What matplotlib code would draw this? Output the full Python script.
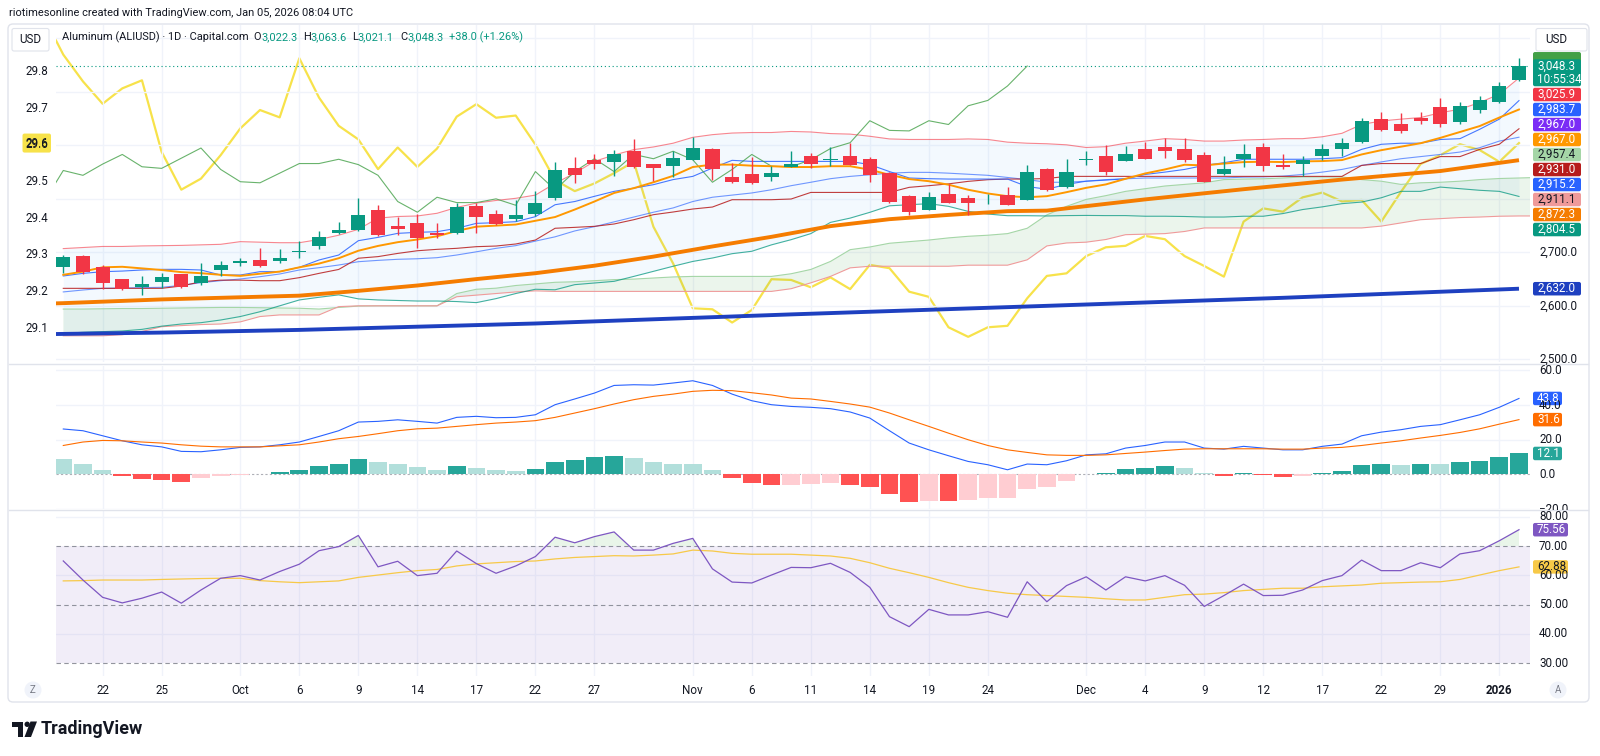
import numpy as np
import matplotlib
matplotlib.use("Agg")
import matplotlib.pyplot as plt
from matplotlib.patches import FancyBboxPatch, Rectangle, Ellipse, Polygon
from matplotlib.lines import Line2D
from matplotlib.transforms import Bbox, TransformedBbox

plt.rcParams["font.family"] = ["Roboto", "DejaVu Sans"]

# ---------------- data ----------------
tick_pos = [2, 5, 9, 12, 15, 18, 21, 24, 27, 32, 35, 38, 41, 44, 47, 52, 55, 58, 61, 64, 67, 70, 73]
tick_txt = ["22", "25", "Oct", "6", "9", "14", "17", "22", "27", "Nov", "6", "11", "14",
            "19", "24", "Dec", "4", "9", "12", "17", "22", "29", "2026"]

opens = [2673, 2693, 2673, 2650, 2635, 2645, 2659, 2643, 2667, 2681,
         2686, 2684, 2701, 2711, 2736, 2742, 2780, 2750, 2755, 2737,
         2736, 2787, 2772, 2763, 2772, 2802, 2858, 2872, 2869, 2889,
         2866, 2862, 2872, 2893, 2841, 2846, 2841, 2860, 2881, 2873,
         2881, 2874, 2848, 2806, 2779, 2809, 2802, 2799, 2807, 2798,
         2855, 2822, 2873, 2880, 2871, 2894, 2896, 2893, 2882, 2847,
         2875, 2896, 2864, 2866, 2880, 2894, 2907, 2949, 2939, 2951,
         2971, 2943, 2966, 2981, 3022.3]
highs = [2695, 2695, 2676, 2651, 2655, 2662, 2660, 2681, 2683, 2690,
         2708, 2706, 2722, 2740, 2757, 2802, 2789, 2767, 2772, 2754,
         2793, 2793, 2780, 2797, 2815, 2869, 2878, 2883, 2892, 2912,
         2866, 2889, 2916, 2895, 2867, 2878, 2861, 2890, 2886, 2896,
         2904, 2878, 2851, 2807, 2812, 2827, 2808, 2809, 2822, 2864,
         2858, 2875, 2890, 2900, 2898, 2906, 2914, 2913, 2888, 2881,
         2902, 2904, 2883, 2881, 2902, 2913, 2952, 2963, 2961, 2963,
         2989, 2981, 2993, 3018, 3063.6]
lows = [2662, 2660, 2631, 2630, 2620, 2633, 2634, 2639, 2655, 2675,
        2672, 2681, 2689, 2706, 2734, 2739, 2731, 2732, 2708, 2726,
        2734, 2736, 2751, 2759, 2768, 2798, 2830, 2856, 2842, 2858,
        2833, 2841, 2872, 2836, 2830, 2828, 2833, 2859, 2858, 2862,
        2864, 2831, 2793, 2769, 2779, 2793, 2769, 2791, 2788, 2798,
        2815, 2821, 2863, 2844, 2871, 2874, 2877, 2868, 2831, 2845,
        2860, 2852, 2856, 2843, 2873, 2880, 2905, 2927, 2923, 2939,
        2934, 2939, 2961, 2980, 3021.1]
closes = [2692, 2664, 2642, 2632, 2641, 2653, 2636, 2656, 2676, 2683,
          2675, 2690, 2703, 2729, 2741, 2769, 2732, 2744, 2726, 2733,
          2784, 2767, 2753, 2769, 2793, 2853, 2844, 2865, 2883, 2860,
          2857, 2876, 2895, 2855, 2832, 2830, 2848, 2866, 2866, 2874,
          2864, 2844, 2795, 2775, 2803, 2793, 2793, 2800, 2788, 2851,
          2817, 2851, 2875, 2851, 2883, 2875, 2889, 2873, 2831, 2855,
          2883, 2861, 2860, 2873, 2894, 2905, 2946, 2928, 2927, 2946,
          2939, 2974, 2984, 3011, 3048.3]

bb_upper = [2707, 2709, 2711, 2711, 2712, 2712.5, 2713, 2714, 2715, 2720,
            2719, 2718, 2718, 2724, 2732, 2743, 2764, 2767, 2768, 2773,
            2784, 2792, 2797, 2801, 2807, 2829, 2848, 2870, 2882, 2892,
            2897, 2904, 2915, 2920, 2923, 2924, 2924, 2926, 2925, 2922,
            2921, 2917, 2912, 2911, 2911, 2911, 2912, 2911, 2906, 2904,
            2903, 2901, 2896, 2897.5, 2904, 2908, 2912.5, 2911, 2908, 2908,
            2910, 2911, 2912.5, 2912.5, 2916, 2922.5, 2939, 2945.6, 2949, 2952,
            2961, 2967.5, 2980, 2995.6, 3025.9]
bb_basis = [2626, 2629.6, 2632.7, 2633.3, 2634, 2634.6, 2638.3, 2643.3, 2647, 2650.2,
            2654.5, 2659.5, 2667, 2671.3, 2676.3, 2682.5, 2685, 2687, 2688, 2690,
            2695, 2701, 2707.5, 2712.5, 2721, 2729, 2740, 2748, 2757, 2766,
            2775, 2783, 2795, 2803, 2807, 2811, 2817, 2824.6, 2831, 2837.7,
            2842, 2845, 2848, 2849.5, 2849.5, 2848, 2846, 2844, 2840, 2836,
            2831, 2831, 2833, 2836, 2837.5, 2839, 2839, 2839, 2839, 2839,
            2840.6, 2841, 2842.5, 2845.6, 2850, 2855, 2862.5, 2869, 2875, 2879,
            2883, 2887.5, 2895.6, 2908, 2915.2]
bb_lower = [2548.6, 2550.5, 2551.8, 2553, 2556, 2562, 2566, 2568.5, 2573.5, 2580,
            2589, 2600, 2611, 2616, 2620.5, 2613, 2611, 2610, 2609, 2609,
            2608, 2606, 2613.5, 2623, 2631, 2630, 2639.6, 2642.7, 2645.8, 2655,
            2664.5, 2674, 2683, 2689.4, 2697.5, 2702, 2714, 2723.7, 2735, 2756,
            2764, 2774.8, 2787, 2789, 2791, 2786, 2776.6, 2771.6, 2768.5, 2768.5,
            2768, 2768.7, 2769, 2768.7, 2768.7, 2767.5, 2767.5, 2767, 2766, 2766,
            2767.5, 2767.5, 2772.5, 2780, 2785, 2791, 2794, 2802, 2814, 2814,
            2822, 2819, 2816, 2814, 2804.5]

tenkan = [2655.8, 2660.7, 2663.8, 2665, 2667, 2668.2, 2668.2, 2667, 2657.6, 2657.6,
          2663.9, 2663.9, 2672, 2685.7, 2695, 2721.8, 2728, 2735.5, 2737.4, 2738.6,
          2744.9, 2754.2, 2755.4, 2757.3, 2766.7, 2789, 2795, 2804.7, 2814, 2820,
          2826.5, 2836, 2842, 2857.6, 2872, 2870, 2870, 2870, 2870, 2870,
          2870, 2864, 2851, 2839, 2837.7, 2837, 2837, 2837, 2837, 2823,
          2818, 2827, 2833, 2835, 2837.5, 2845.6, 2850, 2855, 2862.5, 2867.5,
          2874, 2874, 2874, 2874, 2875, 2877, 2892.5, 2902, 2904, 2904,
          2911, 2912.5, 2930, 2949, 2983.7]
kijun = [2632.7, 2632.7, 2632.7, 2632.7, 2632.7, 2632.7, 2637, 2645, 2648, 2648,
         2647, 2647, 2652.7, 2660.7, 2668, 2689, 2692, 2698, 2703, 2705.6,
         2707.5, 2710.6, 2711.8, 2715.6, 2723, 2745, 2746.7, 2748.6, 2753, 2761,
         2770.4, 2775.4, 2781, 2784.7, 2798.4, 2798.4, 2798.4, 2799.7, 2812, 2812,
         2812, 2812, 2812, 2821.5, 2824.6, 2828, 2832.7, 2835.8, 2837, 2837,
         2838, 2842, 2842, 2842, 2842, 2842, 2842, 2842, 2842, 2842,
         2842, 2842, 2842, 2842, 2842, 2842, 2862.5, 2866, 2866, 2866,
         2879, 2879, 2892.5, 2902, 2931]
span_a = [2594, 2594, 2594.5, 2595, 2595, 2595.5, 2596, 2596.5, 2597, 2597,
          2596.5, 2596, 2595.5, 2594, 2597, 2599.5, 2600, 2600, 2600, 2600,
          2623, 2631, 2633, 2638, 2641, 2644, 2645, 2647, 2649, 2650,
          2652, 2654, 2655, 2655, 2655, 2655, 2655, 2660, 2668, 2683,
          2705, 2710, 2717, 2720, 2723, 2727, 2730, 2732, 2735, 2745,
          2770, 2786, 2799, 2806, 2814, 2819, 2824, 2827, 2830, 2836,
          2837, 2837.5, 2839, 2841, 2841, 2841, 2836, 2833, 2827, 2830,
          2831, 2833, 2836, 2838, 2839, 2840]
span_b = [2544, 2544, 2544, 2546, 2552, 2561, 2563, 2565, 2566, 2570,
          2580, 2583, 2583, 2583, 2598.5, 2600, 2600, 2600, 2600, 2600,
          2617, 2620, 2623, 2626, 2628, 2627, 2627, 2627, 2627, 2627,
          2627, 2627, 2627, 2627, 2627, 2627, 2627, 2632, 2643, 2655,
          2671, 2674, 2674, 2674, 2674, 2674, 2676, 2676, 2676, 2686,
          2712, 2717.5, 2719, 2724, 2733, 2734, 2735, 2739, 2745.6, 2745.6,
          2745.6, 2745.6, 2745.6, 2745.6, 2745.6, 2745.6, 2745.6, 2749, 2755, 2761,
          2763, 2765, 2766, 2767.5, 2768, 2768]
ema_fast = [2658, 2664, 2672, 2673, 2670, 2667, 2663, 2661, 2658, 2656,
            2660, 2664, 2672, 2679, 2689, 2703, 2712, 2719, 2724, 2730,
            2740, 2748, 2750, 2752, 2759, 2766, 2780, 2795, 2811, 2820,
            2831, 2843, 2859.5, 2864, 2864, 2862, 2861, 2859.5, 2859.5, 2861,
            2861, 2854.5, 2845, 2837, 2833, 2826.5, 2817, 2810, 2805, 2803,
            2805, 2812.5, 2820.6, 2827, 2837.5, 2847.5, 2855, 2863.75, 2862.5, 2866,
            2868.75, 2869.4, 2868.75, 2870, 2870.6, 2872.5, 2883, 2891, 2897.5, 2904,
            2914, 2925, 2936, 2952, 2967]
ma_mid_x = [-1, 0, 5, 9, 12, 15, 18, 21, 24, 27, 30, 33, 36, 39, 42, 45, 48, 50, 55, 60, 65, 70, 74]
ma_mid = [2604, 2605, 2612, 2616, 2619, 2628, 2638, 2650, 2661, 2675, 2692, 2711,
          2729, 2749, 2762, 2770, 2777, 2778, 2799, 2818, 2836, 2852, 2872.3]
ma_long_x = [-1, 5, 12, 18, 24, 37, 50, 62, 74]
ma_long = [2547, 2550, 2555, 2561, 2567, 2584, 2600, 2615, 2632]

# overlay symbol on the left scale (first value sits just left of the first candle)
cmp_line = [29.95,
            29.846, 29.773, 29.712, 29.754, 29.776, 29.581, 29.478, 29.508, 29.572, 29.645,
            29.695, 29.675, 29.836, 29.729, 29.652, 29.615, 29.534, 29.593, 29.540, 29.590,
            29.677, 29.711, 29.674, 29.680, 29.601, 29.504, 29.474, 29.495, 29.523, 29.554,
            29.377, 29.277, 29.155, 29.152, 29.116, 29.150, 29.234, 29.232, 29.212, 29.239,
            29.207, 29.273, 29.264, 29.200, 29.186, 29.103, 29.077, 29.103, 29.107, 29.182,
            29.243, 29.250, 29.297, 29.321, 29.325, 29.352, 29.343, 29.297, 29.270, 29.241,
            29.391, 29.427, 29.418, 29.457, 29.470, 29.446, 29.450, 29.391, 29.472, 29.548,
            29.572, 29.602, 29.586, 29.554, 29.605]

macd = [26.2, 25.2, 22.3, 19.4, 17.1, 15.9, 13.3, 13.1, 14.2, 15.6,
        15.9, 17.1, 18.7, 21.9, 25.2, 30.2, 30.6, 31.5, 30.6, 29.6,
        32.9, 33.5, 32.7, 32.9, 34.4, 40.2, 43.5, 46.9, 51.3, 51.7,
        51.5, 52.7, 54.0, 51.3, 46.3, 42.5, 40.2, 39.2, 38.7, 37.9,
        36.0, 32.5, 25.2, 18.1, 14.2, 10.8, 7.5, 5.6, 2.7, 6.0,
        5.6, 7.9, 11.3, 11.9, 15.2, 16.7, 18.7, 18.7, 15.2, 14.6,
        16.2, 15.2, 14.2, 14.2, 16.2, 17.5, 22.3, 24.4, 25.8, 27.7,
        28.7, 31.5, 34.4, 38.7, 43.8]
macd_signal = [16.7, 18.7, 19.6, 19.4, 18.7, 18.1, 17.1, 16.3, 15.9, 15.9,
               15.9, 16.5, 17.1, 18.7, 20.6, 21.9, 23.5, 25.2, 26.3, 26.7,
               27.7, 28.7, 29.6, 30.2, 31.0, 32.9, 35.4, 37.9, 40.6, 43.1,
               45.0, 46.3, 47.9, 48.5, 48.3, 47.1, 45.8, 44.0, 43.5, 42.1,
               40.6, 38.8, 35.4, 31.5, 27.7, 23.8, 20.0, 16.7, 14.2, 12.7,
               11.3, 11.0, 11.0, 11.3, 12.1, 12.9, 13.8, 14.6, 14.8, 14.8,
               14.8, 14.8, 14.6, 14.6, 15.2, 15.6, 16.7, 18.1, 19.4, 21.0,
               22.5, 24.2, 26.3, 29.0, 31.6]
macd_hist = [8.7, 6.3, 2.7, -1.0, -2.5, -3.1, -4.4, -2.1, -1.0, -0.4,
             0.2, 1.2, 2.3, 4.6, 6.3, 8.7, 7.3, 6.3, 4.2, 2.7,
             4.8, 4.0, 2.7, 2.1, 3.1, 7.3, 8.1, 9.8, 10.9, 9.2,
             7.3, 6.3, 6.2, 2.7, -1.9, -5.0, -6.2, -5.8, -5.4, -4.8,
             -5.8, -7.3, -11.5, -15.6, -15.3, -15.5, -14.8, -13.8, -13.5, -8.1,
             -7.1, -3.8, 0.2, 0.8, 2.9, 3.5, 4.6, 3.5, 0.6, -0.8,
             0.6, -0.4, -1.5, -0.8, 0.6, 2.1, 5.2, 5.8, 5.6, 6.2,
             5.8, 7.3, 7.9, 9.8, 12.1]

rsi = [64.9, 58.4, 52.5, 50.6, 52.2, 54.3, 50.5, 55.0, 59.0, 59.9,
       58.4, 61.3, 63.8, 68.4, 69.8, 73.6, 62.9, 64.8, 59.9, 60.7,
       68.3, 64.0, 60.7, 63.2, 66.4, 73.0, 71.1, 73.2, 74.8, 68.6,
       68.6, 70.9, 72.6, 62.2, 57.7, 57.4, 60.1, 62.7, 62.6, 64.1,
       61.0, 55.9, 45.9, 42.5, 48.4, 46.5, 46.5, 47.6, 45.7, 57.8,
       51.0, 56.5, 59.5, 55.0, 59.5, 58.1, 59.9, 56.6, 49.4, 53.1,
       57.0, 53.1, 53.2, 55.0, 58.2, 59.9, 65.2, 61.6, 61.6, 64.3,
       62.6, 67.3, 68.4, 71.8, 75.56]
rsi_ma = [58.1, 58.2, 58.4, 58.4, 58.4, 58.6, 58.75, 58.9, 59.0, 59.0,
          58.2, 57.8, 57.5, 57.8, 58.1, 59.3, 60.1, 60.9, 61.6, 62.0,
          63.2, 63.9, 64.3, 64.7, 64.9, 65.6, 66.1, 66.4, 66.7, 66.6,
          66.9, 67.3, 68.6, 68.3, 67.5, 67.2, 67.2, 67.2, 66.9, 66.6,
          65.8, 64.3, 62.4, 60.9, 59.3, 57.5, 55.9, 54.8, 53.9, 53.4,
          53.1, 52.8, 52.5, 52.0, 51.6, 51.6, 52.5, 53.4, 53.6, 54.1,
          54.8, 55.2, 55.6, 55.6, 56.1, 56.4, 56.7, 57.3, 57.5, 57.7,
          57.8, 58.6, 60.1, 61.6, 62.88]

# values shown in price-scale badges that have no drawn line of their own
purple_badge = 2967.0
span_a_now = 2957.4
span_b_now = 2911.1

price_ticks = [2500, 2600, 2700]
left_ticks = [29.1, 29.2, 29.3, 29.4, 29.5, 29.6, 29.7, 29.8]
macd_ticks = [60, 40, 20, 0, -20]
rsi_ticks = [80, 70, 60, 50, 40, 30]

# ---------------- figure ----------------
W, H = 1600, 756
fig = plt.figure(figsize=(W / 100, H / 100), dpi=100)
fig.patch.set_facecolor("white")
DARK = "#131722"
GRID = "#F0F3FA"
UP, DOWN = "#089981", "#F23645"
XL = (-0.37, 74.56)


def fx(px):
    return px / W


def fy(py):
    return 1 - py / H


def pane(top, bottom, name):
    a = fig.add_axes([fx(56), fy(bottom), fx(1530) - fx(56), fy(top) - fy(bottom)], label=name)
    a.set_xlim(*XL)
    a.axis("off")
    return a


ax_cmp = pane(25, 362, "cmp")
ax = pane(25, 362, "price")
ax_macd = pane(366, 509, "macd")
ax_rsi = pane(511, 676, "rsi")
ax_cmp.set_zorder(0)
ax.set_zorder(1)

ax.set_ylim(2495, 3125)
ax_cmp.set_ylim(29.0084, 29.9267)
ax_macd.set_ylim(-19.9, 62.5)
ax_rsi.set_ylim(25.67, 81.94)

x = np.arange(len(closes))
xc = np.arange(len(span_a))
o, hi, lo, c = (np.array(v, float) for v in (opens, highs, lows, closes))

for a in (ax, ax_macd, ax_rsi):
    for t in tick_pos:
        a.axvline(t, color=GRID, lw=1, zorder=0)
for p in range(2500, 3101, 100):
    ax.axhline(p, color=GRID, lw=1, zorder=0)
for v in (60, 40, 20, -20):
    ax_macd.axhline(v, color=GRID, lw=1, zorder=0)
for v in (80, 60, 40):
    ax_rsi.axhline(v, color=GRID, lw=1, zorder=0)

# ---- main pane ----
ax_cmp.plot(np.arange(-1, len(cmp_line) - 1), cmp_line, color="#F7E24A", lw=1.6)

sa, sb = np.array(span_a), np.array(span_b)
ax.fill_between(x, bb_upper, bb_lower, color="#2196F3", alpha=0.05, lw=0, zorder=1)
ax.fill_between(xc, sa, sb, where=sa >= sb, interpolate=True, color="#43A047", alpha=0.1, lw=0, zorder=1)
ax.fill_between(xc, sa, sb, where=sa < sb, interpolate=True, color="#F44336", alpha=0.1, lw=0, zorder=1)
ax.plot(xc, sa, color="#A5D6A7", lw=0.8, zorder=2)
ax.plot(xc, sb, color="#EF9A9A", lw=0.8, zorder=2)
ax.plot(x, bb_lower, color="#089981", lw=0.8, alpha=0.75, zorder=2)
ax.plot(x, bb_upper, color="#F23645", lw=0.8, alpha=0.6, zorder=2)
ax.plot(x, bb_basis, color="#2962FF", lw=0.8, alpha=0.65, zorder=2)
ax.plot(x, kijun, color="#B71C1C", lw=0.8, alpha=0.85, zorder=2)
ax.plot(x, tenkan, color="#2962FF", lw=0.8, alpha=0.85, zorder=2)
ax.plot(np.arange(-1, len(closes) - 25), c[24:], color="#43A047", lw=0.8, alpha=0.8, zorder=2)
ax.plot(ma_long_x, ma_long, color="#1E40C0", lw=2.8, zorder=3, solid_capstyle="butt")
ax.plot(ma_mid_x, ma_mid, color="#F57C00", lw=2.8, zorder=3, solid_capstyle="butt")
ax.plot(x, ema_fast, color="#FF9800", lw=1.4, zorder=3)
ax.axhline(closes[-1], color=UP, lw=0.8, ls=(0, (1, 2.5)), zorder=3)

col = np.where(c >= o, UP, DOWN)
ax.vlines(x, lo, hi, colors=col, lw=1, zorder=5)
ax.bar(x, np.maximum(np.abs(c - o), 1.6), bottom=np.minimum(o, c), width=0.72,
       color=col, lw=0, zorder=6)

# ---- MACD pane ----
hst = np.array(macd_hist)
prev = np.concatenate([[hst[0]], hst[:-1]])
hcol = np.where(hst >= 0, np.where(hst > prev, "#26A69A", "#B2DFDB"),
                np.where(hst < prev, "#FF5252", "#FFCDD2"))
ax_macd.axhline(0, color="#787B86", lw=0.8, ls=(0, (2, 2)), alpha=0.6, zorder=1)
ax_macd.bar(x, hst, width=0.9, color=hcol, lw=0, zorder=2)
ax_macd.plot(x, macd, color="#2962FF", lw=0.8, zorder=3)
ax_macd.plot(x, macd_signal, color="#FF6D00", lw=0.8, zorder=3)

# ---- RSI pane ----
r = np.array(rsi)
ax_rsi.fill_between(XL, 30, 70, color="#7E57C2", alpha=0.1, lw=0, zorder=1)
for v in (70, 50, 30):
    ax_rsi.axhline(v, color="#787B86", lw=0.8, ls=(0, (4, 3)), alpha=0.8, zorder=1)
ax_rsi.fill_between(x, 70, r, where=r > 70, interpolate=True, color="#4CAF50", alpha=0.12, lw=0)
ax_rsi.plot(x, rsi_ma, color="#F7C948", lw=0.9, zorder=3)
ax_rsi.plot(x, rsi, color="#7E57C2", lw=0.9, zorder=4)


# ---------------- chrome / labels ----------------
def ypix(a, v):
    return H - a.transData.transform((0, v))[1]


def xpix(a, v):
    return a.transData.transform((v, 0))[0]


def badge(x0, top, w, h, fc, ec="none", z=20):
    fig.add_artist(FancyBboxPatch((fx(x0), fy(top + h)), w / W, h / H,
                                  boxstyle="round,pad=0,rounding_size=%f" % (2.0 / W),
                                  mutation_aspect=W / H, fc=fc, ec=ec, lw=0.8,
                                  transform=fig.transFigure, zorder=z))


def txt(px, py, s, **kw):
    kw.setdefault("fontsize", 8.4)
    kw.setdefault("color", DARK)
    kw.setdefault("va", "center")
    kw.setdefault("zorder", 25)
    return fig.text(fx(px), fy(py), s, **kw)


# frame and pane separators
fig.add_artist(FancyBboxPatch((fx(8), fy(702)), 1581 / W, 678 / H,
                              boxstyle="round,pad=0,rounding_size=%f" % (5.0 / W),
                              mutation_aspect=W / H, fill=False, ec="#E0E3EB", lw=1,
                              transform=fig.transFigure, zorder=2))
for yy in (364, 510):
    fig.add_artist(Line2D([fx(9), fx(1588)], [fy(yy), fy(yy)], color="#E0E3EB", lw=1, zorder=2))

txt(9, 13, "riotimesonline created with TradingView.com, Jan 05, 2026 08:04 UTC", fontsize=7.9)

# legend line
rend = fig.canvas.get_renderer()
txt(62, 37, "Aluminum (ALIUSD) \u00b7 1D \u00b7 Capital.com", fontsize=7.9)
for x0, letter, val in [(253.6, "O", "3,022.3"), (303, "H", "3,063.6"),
                        (352, "L", "3,021.1"), (400.5, "C", "3,048.3")]:
    t = txt(x0, 37, letter, fontsize=7.9)
    wlet = t.get_window_extent(renderer=rend).width
    txt(x0 + wlet, 37, val, fontsize=7.9, color=UP)
txt(449, 37, "+38.0 (+1.26%)", fontsize=7.9, color=UP)

# USD boxes
badge(12, 28.5, 37, 22.5, "white", ec="#E0E3EB")
txt(30.5, 39.8, "USD", ha="center")
badge(1536, 28.5, 51, 22.5, "white", ec="#E0E3EB")
txt(1545, 39.8, "USD")

# left scale
for v in left_ticks:
    txt(48, ypix(ax_cmp, v), "%.1f" % v, ha="right")
yc = ypix(ax_cmp, cmp_line[-1])
badge(22.5, yc - 9.5, 28.5, 19, "#F7E24A")
txt(48, yc, "%.1f" % cmp_line[-1], ha="right")

# right price scale
for p in price_ticks:
    txt(1539, ypix(ax, p), "{:,.1f}".format(p))

BH, GAP = 13.5, 1.5
ylast = ypix(ax, closes[-1])
badge(1533, ylast - 14, 48, 14, "#43A047")
top0 = ylast - BH / 2
badge(1533, top0, 48, 27, UP)
txt(1537, ylast, "{:,.1f}".format(closes[-1]), color="white")
txt(1537, ylast + 13, "10:55:34", color="white")

price_badges = [
    (bb_upper[-1], DOWN, "white"),
    (tenkan[-1], "#2962FF", "white"),
    (purple_badge, "#7B2CF6", "white"),
    (ema_fast[-1], "#FF9800", "white"),
    (span_a_now, "#A5D6A7", DARK),
    (kijun[-1], "#B71C1C", "white"),
    (bb_basis[-1], "#2962FF", "white"),
    (span_b_now, "#EF9A9A", DARK),
    (ma_mid[-1], "#F57C00", "white"),
    (bb_lower[-1], "#089981", "white"),
    (ma_long[-1], "#1E40C0", "white"),
]


def stack(a, items, cursor, w, fmt):
    for val, fc, tc in items:
        top = max(ypix(a, val) - BH / 2, cursor)
        badge(1533, top, w, BH, fc)
        txt(1537, top + BH / 2, fmt(val), color=tc)
        cursor = top + BH + GAP


stack(ax, price_badges, top0 + 27 + GAP, 48, lambda v: "{:,.1f}".format(v))

# MACD scale: labels are clipped to their pane, as on the chart
macd_clip = TransformedBbox(Bbox([[0, fy(510)], [1, fy(364)]]), fig.transFigure)
for v in macd_ticks:
    t = txt(1539, ypix(ax_macd, v), ("%.1f" % v).replace("-", "\u2212"))
    t.set_clip_box(macd_clip)
    t.set_clip_on(True)
stack(ax_macd, [(macd[-1], "#2962FF", "white"), (macd_signal[-1], "#FF6D00", "white"),
                (macd_hist[-1], "#26A69A", "white")], 0, 29, lambda v: "%.1f" % v)

for v in rsi_ticks:
    txt(1539, ypix(ax_rsi, v), "%.2f" % v)
stack(ax_rsi, [(rsi[-1], "#7E57C2", "white"), (rsi_ma[-1], "#F7C948", DARK)],
      0, 35, lambda v: "%.2f" % v)

# time axis
for t, s in zip(tick_pos, tick_txt):
    txt(xpix(ax, t), 690, s, ha="center", fontweight="bold" if s == "2026" else "normal")
for cx, s in ((33, "Z"), (1558, "A")):
    fig.add_artist(Ellipse((fx(cx), fy(690)), 17 / W, 17 / H, fc="#F0F3FA", ec="none",
                           transform=fig.transFigure, zorder=20))
    txt(cx, 690, s, ha="center", fontsize=7, color="#787B86")

# TradingView logo
fig.add_artist(Rectangle((fx(12), fy(727)), 11 / W, 5.5 / H, fc=DARK, ec="none",
                         transform=fig.transFigure, zorder=20))
fig.add_artist(Rectangle((fx(17.5), fy(737)), 5.5 / W, 15.5 / H, fc=DARK, ec="none",
                         transform=fig.transFigure, zorder=20))
fig.add_artist(Ellipse((fx(27.2), fy(724.3)), 5.4 / W, 5.4 / H, fc=DARK, ec="none",
                       transform=fig.transFigure, zorder=20))
fig.add_artist(Polygon([(fx(24.5), fy(737)), (fx(30.5), fy(721.5)), (fx(37), fy(721.5)),
                        (fx(31), fy(737))], closed=True, fc=DARK, ec="none",
                       transform=fig.transFigure, zorder=20))
txt(41, 729, "TradingView", fontsize=13, fontweight="bold")

fig.savefig("out.png", dpi=100, facecolor="white")
